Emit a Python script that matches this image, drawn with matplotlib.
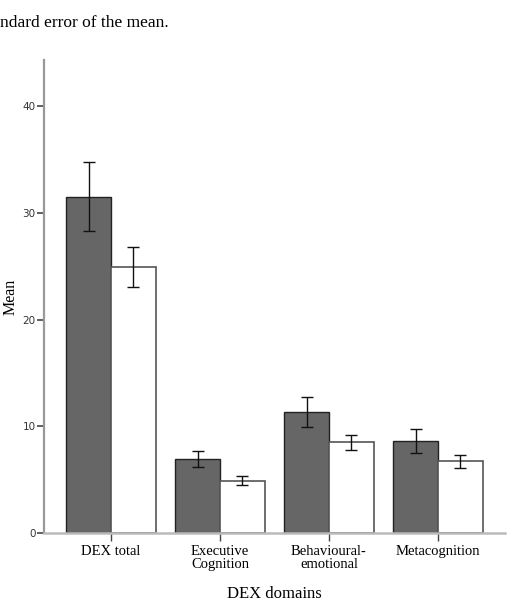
import matplotlib
matplotlib.use("Agg")
import matplotlib.pyplot as plt
import numpy as np

# DEX domain means, two groups (dark / white bars), with standard errors
domains = ['DEX total', 'Executive\nCognition', 'Behavioural-\nemotional', 'Metacognition']
dark_mean = [31.5, 6.9, 11.3, 8.6]
dark_err = [3.25, 0.75, 1.4, 1.1]
white_mean = [24.9, 4.9, 8.5, 6.7]
white_err = [1.85, 0.4, 0.72, 0.58]
yticks = [0, 10, 20, 30, 40]

fig = plt.figure(figsize=(5.12, 6.14), dpi=100)
ax = fig.add_axes([0.086, 0.132, 0.9, 0.77])

x = np.arange(len(domains))
w = 0.41
ax.bar(x - w / 2, dark_mean, w, color='#666666', edgecolor='#222222', linewidth=1.0, zorder=2)
ax.bar(x + w / 2, white_mean, w, color='white', edgecolor='#555555', linewidth=1.2, zorder=2)
ax.errorbar(x - w / 2, dark_mean, yerr=dark_err, fmt='none', ecolor='#111111',
            elinewidth=1.0, capsize=4, capthick=1.0, zorder=3)
ax.errorbar(x + w / 2, white_mean, yerr=white_err, fmt='none', ecolor='#111111',
            elinewidth=1.0, capsize=4, capthick=1.0, zorder=3)

ax.set_xlim(-0.615, 3.615)
ax.set_ylim(0, 44.3)
ax.set_yticks(yticks)
ax.set_xticks(x)
ax.set_xticklabels(domains, family='Liberation Serif', fontsize=10.5, linespacing=0.95)
for lab in ax.get_yticklabels():
    lab.set_family('DejaVu Sans')
    lab.set_fontsize(7.5)
    lab.set_color('#333333')

for s in ['top', 'right']:
    ax.spines[s].set_visible(False)
ax.spines['left'].set_color('#999999')
ax.spines['left'].set_linewidth(1.6)
ax.spines['bottom'].set_color('#bbbbbb')
ax.spines['bottom'].set_linewidth(1.8)
ax.tick_params(axis='y', direction='out', length=5, width=1.2, color='#444444', pad=1)
ax.tick_params(axis='x', direction='out', length=6, width=1.0, color='#444444', pad=3)

ax.set_xlabel('DEX domains', family='Liberation Serif', fontsize=12, labelpad=11)
ax.set_ylabel('Mean', family='Liberation Serif', fontsize=11.5, labelpad=3)

fig.text(0.0, 0.962, 'ndard error of the mean.', family='Liberation Serif', fontsize=12.5,
         ha='left', va='center')

fig.savefig('out.png', dpi=100)
